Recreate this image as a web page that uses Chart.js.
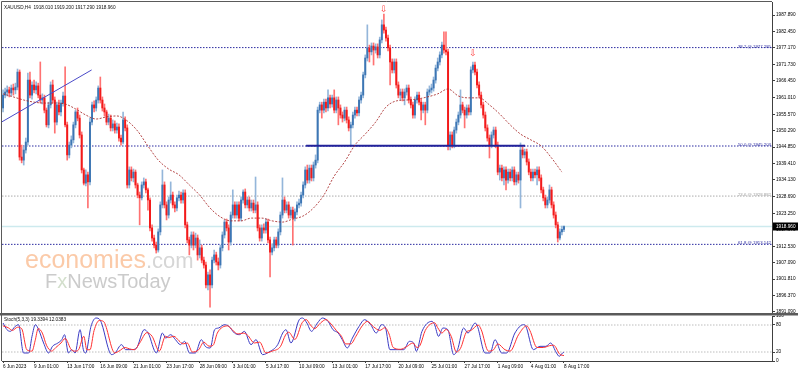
<!DOCTYPE html>
<html lang="en">
<head>
<meta charset="UTF-8" />
<title>XAUUSD H4</title>
<style>
  body { margin: 0; background: #fff; width: 798px; height: 372px; position: relative; overflow: hidden; }
  #mainWrap { position: absolute; left: 0; top: 0; width: 798px; height: 313px; }
  #stochWrap { position: absolute; left: 0; top: 313px; width: 798px; height: 59px; }
</style>
</head>
<body>
<div id="mainWrap"><canvas id="mainChart"></canvas></div>
<div id="stochWrap"><canvas id="stochChart"></canvas></div>

<script src="https://cdn.jsdelivr.net/npm/chart.js"></script>
<script>
// ---- data (XAUUSD H4, 6 Jun - 8 Aug 2023) ----
const header = 'XAUUSD,H4  1918.010 1919.200 1917.290 1918.960';
const stochHeader = 'Stoch(5,3,3) 19.3394 12.0383';

const opens = [
  1957.6,1961.8,1962.8,1963.5,1962.5,1964.1,1963.5,1964.4,1969.3,1941.6,
  1940.6,1943.9,1946.5,1966.7,1961.8,1965.1,1963.5,1964.8,1961.8,1960.2,
  1960.9,1956.9,1952.1,1958.6,1965.1,1960.2,1953.0,1958.6,1956.3,1959.2,
  1961.5,1952.1,1942.3,1945.5,1947.2,1952.1,1956.3,1954.3,1948.8,1937.4,
  1933.1,1935.8,1933.5,1953.0,1958.6,1957.6,1960.2,1964.1,1960.2,1957.6,
  1956.3,1953.0,1954.3,1951.1,1952.4,1950.4,1951.4,1947.8,1946.5,1953.7,
  1951.1,1932.5,1937.4,1934.8,1936.7,1932.5,1929.2,1928.3,1932.5,1933.5,
  1930.9,1927.6,1918.5,1915.2,1912.9,1911.3,1917.2,1926.0,1932.5,1926.0,
  1922.7,1927.6,1929.2,1926.0,1925.0,1928.3,1929.2,1927.6,1929.9,1919.5,
  1914.6,1912.9,1916.2,1912.9,1915.2,1909.7,1912.0,1908.0,1906.4,1899.9,
  1903.2,1899.9,1908.0,1909.7,1907.4,1906.4,1912.0,1916.2,1920.4,1918.5,
  1913.9,1922.7,1926.0,1922.7,1926.0,1921.7,1927.6,1930.2,1926.0,1927.6,
  1925.0,1926.6,1924.3,1926.0,1918.5,1915.2,1918.5,1917.8,1920.4,1914.6,
  1910.6,1912.0,1914.6,1912.9,1917.2,1922.7,1927.6,1924.3,1926.0,1922.7,
  1924.3,1921.7,1923.7,1926.0,1926.6,1929.2,1932.5,1937.4,1934.1,1938.0,
  1934.8,1939.0,1940.6,1956.9,1958.6,1956.9,1959.5,1957.6,1960.9,1958.9,
  1960.9,1956.9,1960.2,1957.6,1955.3,1954.3,1956.9,1953.7,1951.1,1952.1,
  1955.3,1956.9,1956.0,1960.2,1961.8,1968.4,1973.9,1977.2,1975.9,1977.8,
  1976.5,1977.5,1974.9,1979.8,1984.7,1983.0,1980.4,1977.2,1972.6,1970.0,
  1972.6,1965.1,1961.8,1962.8,1960.9,1962.8,1964.1,1960.2,1958.6,1955.3,
  1960.2,1961.8,1959.5,1956.9,1958.6,1956.9,1962.8,1963.5,1964.1,1966.7,
  1970.6,1972.6,1974.9,1978.1,1976.5,1975.9,1945.5,1948.8,1945.5,1950.4,
  1953.0,1955.3,1958.6,1956.9,1955.3,1957.6,1956.3,1970.0,1971.6,1969.3,
  1965.1,1961.8,1958.6,1955.3,1951.1,1947.8,1945.5,1948.8,1950.4,1945.5,
  1936.7,1938.0,1934.8,1937.4,1934.1,1936.7,1934.8,1937.4,1933.5,1935.8,
  1934.1,1943.9,1942.3,1943.3,1940.0,1936.7,1934.8,1936.7,1935.8,1937.4,
  1934.8,1930.9,1928.3,1926.0,1927.6,1930.9,1926.0,1922.7,1919.5,1915.2,
  1917.2,1918.01
];
const highs = [
  1963.5,1964.1,1964.8,1964.4,1965.1,1965.4,1965.7,1970.3,1970.0,1945.5,
  1944.9,1947.8,1969.0,1969.3,1966.1,1966.7,1966.1,1965.7,1972.6,1962.2,
  1961.8,1957.6,1959.5,1966.1,1966.7,1961.2,1959.5,1960.2,1960.2,1962.8,
  1971.0,1953.0,1946.5,1948.5,1953.0,1956.9,1957.6,1955.3,1949.8,1938.0,
  1937.4,1936.7,1954.3,1959.5,1959.9,1961.2,1964.8,1967.7,1961.2,1958.9,
  1956.9,1955.6,1955.3,1953.7,1953.4,1952.7,1952.4,1948.8,1956.3,1954.7,
  1952.1,1938.4,1938.4,1937.7,1937.4,1933.1,1930.2,1933.5,1934.8,1934.4,
  1931.5,1928.3,1919.5,1916.2,1913.9,1918.2,1927.0,1937.4,1933.5,1927.0,
  1928.6,1933.5,1930.2,1927.0,1929.2,1930.5,1930.2,1930.9,1930.9,1920.4,
  1915.5,1917.2,1917.2,1916.8,1916.2,1914.6,1912.9,1909.0,1907.4,1904.1,
  1904.8,1909.0,1911.3,1910.6,1908.7,1912.9,1917.2,1921.1,1921.4,1919.5,
  1923.7,1930.9,1927.0,1927.0,1927.0,1928.6,1930.9,1931.2,1928.6,1928.6,
  1927.6,1927.6,1935.1,1927.0,1919.5,1919.5,1919.8,1921.4,1921.4,1915.5,
  1913.3,1915.5,1915.5,1918.2,1923.7,1934.8,1928.6,1927.0,1927.0,1925.3,
  1925.3,1924.7,1927.0,1927.9,1930.2,1933.5,1938.4,1939.0,1939.0,1939.0,
  1940.0,1942.3,1957.9,1959.5,1959.5,1960.5,1960.5,1963.5,1961.8,1961.8,
  1963.5,1961.2,1961.2,1958.6,1956.3,1957.9,1957.9,1954.7,1953.0,1956.3,
  1957.9,1957.9,1961.2,1962.8,1969.3,1974.9,1984.7,1978.1,1978.8,1978.8,
  1978.5,1978.5,1980.7,1986.3,1988.2,1984.0,1981.4,1978.1,1973.6,1973.6,
  1973.6,1966.1,1963.8,1963.8,1963.8,1965.1,1965.1,1961.2,1959.5,1961.2,
  1962.8,1962.8,1960.5,1959.5,1959.5,1963.8,1964.8,1965.4,1967.7,1971.6,
  1973.9,1975.9,1979.1,1982.4,1982.4,1976.8,1949.8,1949.8,1951.4,1954.0,
  1956.3,1963.5,1959.5,1957.9,1958.6,1958.6,1971.0,1972.6,1972.6,1970.3,
  1966.1,1962.8,1959.5,1956.3,1952.1,1948.8,1949.8,1951.4,1951.4,1946.5,
  1939.0,1939.0,1938.4,1938.4,1937.7,1937.7,1938.4,1938.4,1936.7,1936.7,
  1946.2,1944.9,1944.2,1944.2,1941.0,1937.7,1937.7,1937.7,1938.4,1938.4,
  1935.8,1931.8,1929.2,1928.6,1932.5,1931.8,1927.0,1923.7,1920.4,1918.2,
  1919.1,1919.20
];
const lows = [
  1956.3,1960.9,1961.5,1961.2,1961.5,1961.8,1962.2,1963.5,1940.6,1939.7,
  1939.0,1942.9,1945.5,1960.9,1960.5,1962.5,1962.2,1960.9,1959.2,1958.9,
  1956.0,1951.4,1951.1,1957.6,1959.2,1949.4,1952.1,1955.3,1955.0,1958.2,
  1951.4,1940.6,1941.3,1944.6,1946.2,1951.1,1953.4,1947.8,1936.4,1932.5,
  1932.2,1925.0,1932.5,1952.1,1956.3,1956.6,1959.2,1959.2,1956.6,1955.0,
  1952.1,1952.1,1950.1,1950.1,1949.4,1949.4,1946.8,1945.5,1945.9,1950.1,
  1931.5,1931.5,1933.8,1933.5,1931.5,1928.3,1919.5,1927.6,1931.5,1929.9,
  1924.3,1917.5,1914.2,1912.0,1910.3,1910.6,1916.2,1925.0,1925.0,1921.1,
  1921.7,1926.6,1925.0,1923.7,1924.0,1927.3,1926.6,1926.6,1918.5,1913.6,
  1909.7,1912.0,1911.3,1912.0,1908.0,1908.7,1907.1,1905.4,1898.9,1898.3,
  1892.7,1898.9,1907.1,1906.4,1904.8,1905.4,1911.0,1915.2,1917.5,1911.3,
  1912.9,1921.7,1921.7,1921.7,1920.8,1920.8,1926.6,1925.0,1925.0,1924.0,
  1924.0,1923.4,1923.4,1917.5,1914.2,1914.2,1916.8,1916.8,1913.6,1902.5,
  1909.7,1911.0,1912.0,1912.0,1916.2,1921.7,1923.4,1923.4,1921.7,1921.7,
  1912.9,1920.8,1922.7,1925.0,1925.6,1928.3,1931.5,1933.1,1933.1,1933.8,
  1933.8,1938.0,1939.7,1956.0,1954.3,1956.0,1956.3,1956.6,1957.6,1957.9,
  1956.0,1956.0,1952.1,1954.3,1953.0,1953.4,1952.7,1950.1,1945.5,1951.1,
  1954.3,1955.0,1955.0,1959.2,1960.9,1967.4,1972.9,1972.6,1974.9,1971.6,
  1975.5,1973.9,1973.9,1978.8,1982.0,1979.4,1976.2,1965.1,1969.0,1969.0,
  1964.1,1960.9,1960.2,1959.9,1958.6,1961.8,1959.2,1957.6,1954.3,1954.3,
  1959.2,1958.6,1953.7,1956.0,1952.1,1956.0,1961.8,1962.5,1963.1,1965.7,
  1969.7,1971.6,1973.9,1975.5,1974.9,1943.9,1943.9,1944.6,1944.6,1949.4,
  1952.1,1954.3,1956.0,1951.1,1954.3,1955.3,1955.3,1969.0,1968.4,1964.1,
  1960.9,1957.6,1954.3,1950.1,1946.8,1941.3,1944.6,1947.8,1944.6,1935.8,
  1934.1,1933.8,1932.5,1930.9,1933.1,1933.8,1933.8,1932.5,1932.5,1933.1,
  1925.0,1941.3,1941.3,1939.0,1935.8,1933.8,1933.8,1934.8,1932.5,1933.8,
  1929.9,1927.3,1925.0,1925.0,1926.6,1925.0,1921.7,1918.5,1913.9,1914.6,
  1916.2,1917.29
];
const closes = [
  1961.8,1962.8,1963.5,1962.5,1964.1,1963.5,1964.4,1969.3,1941.6,1940.6,
  1943.9,1946.5,1966.7,1961.8,1965.1,1963.5,1964.8,1961.8,1960.2,1960.9,
  1956.9,1952.1,1958.6,1965.1,1960.2,1953.0,1958.6,1956.3,1959.2,1961.5,
  1952.1,1942.3,1945.5,1947.2,1952.1,1956.3,1954.3,1948.8,1937.4,1933.1,
  1935.8,1933.5,1953.0,1958.6,1957.6,1960.2,1964.1,1960.2,1957.6,1956.3,
  1953.0,1954.3,1951.1,1952.4,1950.4,1951.4,1947.8,1946.5,1953.7,1951.1,
  1932.5,1937.4,1934.8,1936.7,1932.5,1929.2,1928.3,1932.5,1933.5,1930.9,
  1927.6,1918.5,1915.2,1912.9,1911.3,1917.2,1926.0,1932.5,1926.0,1922.7,
  1927.6,1929.2,1926.0,1925.0,1928.3,1929.2,1927.6,1929.9,1919.5,1914.6,
  1912.9,1916.2,1912.9,1915.2,1909.7,1912.0,1908.0,1906.4,1899.9,1903.2,
  1899.9,1908.0,1909.7,1907.4,1906.4,1912.0,1916.2,1920.4,1918.5,1913.9,
  1922.7,1926.0,1922.7,1926.0,1921.7,1927.6,1930.2,1926.0,1927.6,1925.0,
  1926.6,1924.3,1926.0,1918.5,1915.2,1918.5,1917.8,1920.4,1914.6,1910.6,
  1912.0,1914.6,1912.9,1917.2,1922.7,1927.6,1924.3,1926.0,1922.7,1924.3,
  1921.7,1923.7,1926.0,1926.6,1929.2,1932.5,1937.4,1934.1,1938.0,1934.8,
  1939.0,1940.6,1956.9,1958.6,1956.9,1959.5,1957.6,1960.9,1958.9,1960.9,
  1956.9,1960.2,1957.6,1955.3,1954.3,1956.9,1953.7,1951.1,1952.1,1955.3,
  1956.9,1956.0,1960.2,1961.8,1968.4,1973.9,1977.2,1975.9,1977.8,1976.5,
  1977.5,1974.9,1979.8,1984.7,1983.0,1980.4,1977.2,1972.6,1970.0,1972.6,
  1965.1,1961.8,1962.8,1960.9,1962.8,1964.1,1960.2,1958.6,1955.3,1960.2,
  1961.8,1959.5,1956.9,1958.6,1956.9,1962.8,1963.5,1964.1,1966.7,1970.6,
  1972.6,1974.9,1978.1,1976.5,1975.9,1945.5,1948.8,1945.5,1950.4,1953.0,
  1955.3,1958.6,1956.9,1955.3,1957.6,1956.3,1970.0,1971.6,1969.3,1965.1,
  1961.8,1958.6,1955.3,1951.1,1947.8,1945.5,1948.8,1950.4,1945.5,1936.7,
  1938.0,1934.8,1937.4,1934.1,1936.7,1934.8,1937.4,1933.5,1935.8,1934.1,
  1943.9,1942.3,1943.3,1940.0,1936.7,1934.8,1936.7,1935.8,1937.4,1934.8,
  1930.9,1928.3,1926.0,1927.6,1930.9,1926.0,1922.7,1919.5,1915.2,1917.2,
  1918.01,1918.96
];

// moving average, [bar, price]
const maPts = [
  [0,1962.2],[5,1961.2],[10,1960.2],[15,1959.5],[20,1959.2],[25,1959.2],[30,1958.9],[35,1957.3],
  [40,1955.3],[45,1954.0],[50,1954.7],[55,1955.0],[60,1953.4],[65,1950.1],[70,1945.2],[75,1940.6],
  [80,1937.7],[85,1935.8],[90,1932.5],[95,1929.2],[100,1925.0],[105,1922.1],[110,1920.8],[115,1920.8],
  [120,1921.7],[125,1921.7],[130,1920.8],[135,1920.4],[140,1921.4],[145,1922.4],[150,1925.0],[155,1929.2],
  [160,1935.4],[165,1940.0],[170,1945.5],[175,1949.1],[180,1953.0],[185,1957.9],[190,1959.9],[195,1960.2],
  [200,1960.5],[205,1961.2],[210,1962.2],[215,1963.8],[220,1961.5],[225,1960.9],[230,1960.9],[235,1958.6],
  [240,1955.6],[245,1952.1],[250,1949.1],[255,1947.2],[260,1945.2],[265,1941.3],[270,1936.7]
];

// stochastic %K (main) and %D (signal), [bar, value]
const stochMain = [
  [0,84.4],[1.9,69.6],[3.5,65.9],[5.9,77],[7.5,80.7],[9.9,17.8],[12.4,17.8],[14,54.8],[15.6,80.7],[17.2,69.6],
  [19.6,40],[22,17.8],[23.9,32.6],[26.5,40],[28.4,47.4],[29.7,58.5],[31.6,17.8],[33.2,25.2],[34.8,17.8],[37.2,69.6],
  [38.8,25.2],[39.9,17.8],[42.5,77],[44.9,95.5],[46.8,91.8],[52.5,14.1],[54.1,17.8],[57.3,36.3],[59.2,25.2],[62.1,25.2],
  [64.5,28.9],[68.2,69.6],[70.1,62.2],[74.1,17.8],[77,62.2],[78.6,51.1],[81,58.5],[83.3,47.4],[85.7,36.3],[87.7,43.7],
  [90.1,17.8],[92.9,17.8],[95.8,47.4],[97.7,32.6],[100.1,28.9],[102.2,69.6],[104.1,73.3],[107,80.7],[109.1,77],[111.8,62.2],
  [114.2,58.5],[116.6,65.9],[119.8,36.3],[122.2,47.4],[125.4,14.1],[128.5,20],[132.7,36.3],[135.1,62.2],[136.7,69.6],[139.1,40],
  [143.1,91.8],[144.7,95.5],[146.8,84.4],[149,65.9],[151.9,84.4],[154.3,95.5],[157,88.1],[159.4,69.6],[161.9,62.2],[163.9,47.4],
  [166.3,28.9],[168.8,51.1],[172,77],[174.7,91.8],[177.6,80.7],[180.3,62.2],[182.9,80.7],[184.8,73.3],[186.9,25.2],[190.4,25.2],
  [193.6,25.2],[196.3,43.7],[198.4,40],[199.7,21.5],[202.4,65.9],[207.2,88.1],[208.5,80.7],[210.4,54.8],[212.5,73.3],[214.9,69.6],
  [217.7,14.1],[219.6,25.2],[222.5,73.3],[224.6,62.2],[228.1,84.4],[229.2,77],[232.9,17.8],[235.3,17.8],[237.7,47.4],[240.9,17.8],
  [243.3,17.8],[247.3,62.2],[251.4,80.7],[252.6,77],[256.2,25.2],[259.4,32.6],[262.3,32.6],[264.5,40],[267.4,17.8],[268.7,10.4],
  [270.3,17.8],[271,19.34]
];
const stochSignal = [
  [0,78],[2.5,74],[4.5,68],[7,75],[9,72],[11.5,25],[14,22],[15.5,45],[17,72],[19,62],
  [21,35],[23.5,22],[25.5,30],[28,40],[30,50],[33,25],[35,22],[36.5,25],[39,55],[40.5,25],
  [42,25],[44,68],[46.5,90],[48.5,88],[54,18],[56,22],[59,30],[61,27],[63.5,25],[66,40],
  [69.5,63],[72,55],[75.5,22],[78.5,55],[80,52],[82.5,55],[85,45],[87,38],[89,40],[91.5,20],
  [94.5,25],[97,42],[99.5,33],[101.5,35],[103.5,62],[106,75],[108.5,78],[111,68],[113.5,60],[116,62],
  [118,58],[121.5,40],[124,42],[127,18],[130,22],[134,32],[136.5,58],[138,64],[141,48],[144.5,85],
  [146.5,92],[148.5,80],[150.5,72],[153.5,85],[156,92],[158.5,82],[161,68],[163.5,55],[165.5,38],[168,38],
  [170.5,55],[173.5,78],[176,88],[179,76],[182,68],[184.5,74],[186.5,60],[188.5,30],[192,26],[195,32],
  [198,40],[200,30],[201.5,35],[204,68],[208.5,85],[210,74],[212,62],[214,70],[216.5,55],[219,20],
  [221,28],[224,65],[226,68],[229.5,80],[231,70],[234.5,22],[237,25],[239,38],[242.5,25],[245,22],
  [249,58],[253,78],[254.5,68],[258,30],[261,30],[264,34],[266,35],[269,15],[271,12.04]
];

const priceTicks = [1987.890,1982.450,1977.170,1971.730,1966.450,1961.010,1955.570,1950.290,1944.850,
  1939.410,1934.130,1928.690,1923.250,1917.970,1912.530,1907.090,1901.810,1896.370,1891.090];
const stochTicks = [0, 20, 80, 100];
const stochLevels = [20, 80];

const dateTicks = [0,15,31,47,63,79,95,111,127,143,159,175,191,207,223,239,255,271];
const dateLabels = ['6 Jun 2023','9 Jun 01:00','13 Jun 17:00','16 Jun 09:00','21 Jun 01:00','23 Jun 17:00',
  '28 Jun 09:00','3 Jul 01:00','5 Jul 17:00','10 Jul 09:00','13 Jul 01:00','17 Jul 17:00','20 Jul 09:00',
  '25 Jul 01:00','27 Jul 17:00','1 Aug 09:00','4 Aug 01:00','8 Aug 17:00'];

const fibLevels = [1977.285, 1945.203, 1928.882, 1913.142];
const fibNames = ['38.2', '50.0', '23.6', '61.8'];
const bidPrice = 1918.960;
const trendLine = [[-0.5, 1953.1], [42.8, 1970.0]];
const levelLine = [[146.4, 1945.3], [252.2, 1945.3]];
const arrowMarks = [[184, 1989.5], [227, 1975.2]];

// ---- view ----
const X_MIN = -0.5, X_MAX = 371.5;
const PRICE_MIN = 1890.76, PRICE_MAX = 1992.15;
const FONT = '"Liberation Sans", Arial, sans-serif';
const AXIS = '#404040';

Chart.defaults.font.family = FONT;
Chart.defaults.font.size = 4.7;
Chart.defaults.color = '#000';

const toXY = pts => pts.map(([x, y]) => ({ x, y }));
const hLine = v => [{ x: X_MIN, y: v }, { x: X_MAX, y: v }];
const bull = i => closes[i] >= opens[i];

const mainDeco = {
  id: 'mainDeco',
  beforeDatasetsDraw(chart) {
    const ctx = chart.ctx;
    ctx.save();
    ctx.textBaseline = 'alphabetic';
    ctx.font = '25px ' + FONT;
    ctx.fillStyle = '#fbcaa8';
    ctx.fillText('economies', 25, 268);
    const w = ctx.measureText('economies').width;
    ctx.font = '22px ' + FONT;
    ctx.fillStyle = '#d6d6d6';
    ctx.fillText('.com', 25 + w, 268);
    ctx.font = '20px ' + FONT;
    ctx.fillStyle = '#cbcbcb';
    ctx.fillText('F', 45, 288);
    let x = 45 + ctx.measureText('F').width;
    ctx.fillStyle = '#d3dfcc';
    ctx.fillText('x', x, 288);
    x += ctx.measureText('x').width;
    ctx.fillStyle = '#cbcbcb';
    ctx.fillText('NewsToday', x, 288);
    ctx.restore();
  },
  afterDraw(chart) {
    const { ctx, chartArea: a, scales: { x, y } } = chart;
    ctx.save();
    ctx.strokeStyle = '#5a5a5a';
    ctx.lineWidth = 1;
    ctx.beginPath();
    ctx.moveTo(a.left - 0.5, a.bottom);
    ctx.lineTo(a.left - 0.5, a.top - 0.5);
    ctx.lineTo(a.right, a.top - 0.5);
    ctx.stroke();

    ctx.fillStyle = '#101010';
    ctx.font = '4.7px ' + FONT;
    ctx.textBaseline = 'middle';
    ctx.fillText(header, 4, 8);

    ctx.font = '4.3px ' + FONT;
    ctx.textAlign = 'right';
    ctx.textBaseline = 'bottom';
    fibLevels.forEach((v, k) => {
      ctx.fillStyle = k === 2 ? '#a0a0a0' : '#2a2aa0';
      ctx.fillText(fibNames[k] + ' @ ' + v.toFixed(3), a.right - 1, y.getPixelForValue(v) + 1);
    });

    ctx.font = '9px "DejaVu Sans"';
    ctx.textAlign = 'center';
    ctx.textBaseline = 'middle';
    ctx.fillStyle = '#ff4040';
    arrowMarks.forEach(([b, p]) => ctx.fillText('\u21E9', x.getPixelForValue(b), y.getPixelForValue(p)));

    const py = y.getPixelForValue(bidPrice);
    ctx.fillStyle = '#000';
    ctx.fillRect(a.right + 1, py - 4, 25, 8);
    ctx.fillStyle = '#fff';
    ctx.font = '4.7px ' + FONT;
    ctx.textAlign = 'left';
    ctx.fillText(bidPrice.toFixed(3), a.right + 4, py);
    ctx.restore();
  }
};

new Chart(document.getElementById('mainChart'), {
  type: 'bar',
  data: {
    datasets: [
      { type: 'line', data: toXY(maPts), borderColor: 'rgba(168,40,40,0.85)', borderWidth: 1,
        borderDash: [2, 1.5], pointRadius: 0, cubicInterpolationMode: 'monotone' },
      { type: 'line', data: toXY(trendLine), borderColor: '#4a4ac8', borderWidth: 1, pointRadius: 0 },
      { type: 'line', data: toXY(levelLine), borderColor: '#22229a', borderWidth: 2, pointRadius: 0 },
      { data: opens.map((o, i) => ({ x: i, y: [o, closes[i]] })), grouped: false,
        barThickness: 1.3, minBarLength: 0.8,
        backgroundColor: c => bull(c.dataIndex) ? '#3d76b4' : '#f21a1a' },
      { data: lows.map((l, i) => ({ x: i, y: [l, highs[i]] })), grouped: false, barThickness: 1,
        backgroundColor: c => bull(c.dataIndex) ? '#94b6da' : '#ff7272' },
      ...fibLevels.map((v, k) => ({ type: 'line', data: hLine(v), pointRadius: 0, borderWidth: 1,
        borderDash: [1.5, 1.5], borderColor: k === 2 ? '#aaaaaa' : '#2a2aa0' })),
      { type: 'line', data: hLine(bidPrice), borderColor: '#cdeaee', borderWidth: 1.5, pointRadius: 0 }
    ]
  },
  options: {
    responsive: true, maintainAspectRatio: false, animation: false, devicePixelRatio: 1,
    layout: { padding: { left: 2, top: 2, right: 0, bottom: 0 } },
    plugins: { legend: { display: false }, tooltip: { enabled: false } },
    scales: {
      x: { type: 'linear', min: X_MIN, max: X_MAX, offset: false, display: false },
      y: {
        position: 'right', min: PRICE_MIN, max: PRICE_MAX, beginAtZero: false,
        afterBuildTicks: s => { s.ticks = priceTicks.map(v => ({ value: v })); },
        afterFit: s => { s.width = 26; s.paddingTop = 0; s.paddingBottom = 0; },
        ticks: { callback: v => v.toFixed(3), padding: 1, autoSkip: false },
        grid: { drawOnChartArea: false, tickLength: 3, color: AXIS },
        border: { display: true, color: AXIS }
      }
    }
  },
  plugins: [mainDeco]
});

const stochDeco = {
  id: 'stochDeco',
  afterDraw(chart) {
    const { ctx, chartArea: a } = chart;
    ctx.save();
    ctx.fillStyle = '#5a5a5a';
    ctx.fillRect(0, 0, chart.width, 2.5);
    ctx.strokeStyle = '#5a5a5a';
    ctx.lineWidth = 1;
    ctx.beginPath();
    ctx.moveTo(a.left - 0.5, 2);
    ctx.lineTo(a.left - 0.5, a.bottom);
    ctx.stroke();
    ctx.fillStyle = '#101010';
    ctx.font = '4.7px ' + FONT;
    ctx.textBaseline = 'middle';
    ctx.fillText(stochHeader, 4, 6.5);
    ctx.restore();
  }
};

new Chart(document.getElementById('stochChart'), {
  type: 'line',
  data: {
    datasets: [
      { data: toXY(stochSignal), borderColor: '#ff3030', borderWidth: 1, pointRadius: 0,
        cubicInterpolationMode: 'monotone' },
      { data: toXY(stochMain), borderColor: '#3a3ac4', borderWidth: 1, pointRadius: 0,
        cubicInterpolationMode: 'monotone' },
      ...stochLevels.map(v => ({ data: hLine(v), borderColor: '#bdbdbd', borderWidth: 1,
        borderDash: [1.5, 1.5], pointRadius: 0 }))
    ]
  },
  options: {
    responsive: true, maintainAspectRatio: false, animation: false, devicePixelRatio: 1,
    layout: { padding: { left: 2, top: 3, right: 0, bottom: 0 } },
    plugins: { legend: { display: false }, tooltip: { enabled: false } },
    scales: {
      x: {
        type: 'linear', min: X_MIN, max: X_MAX, offset: false,
        afterBuildTicks: s => { s.ticks = dateTicks.map(v => ({ value: v })); },
        afterFit: s => { s.height = 11; s.paddingLeft = 0; s.paddingRight = 0; },
        ticks: { callback: (v, i) => dateLabels[i], align: 'start', autoSkip: false,
          maxRotation: 0, minRotation: 0, padding: 1 },
        grid: { drawOnChartArea: false, tickLength: 2, color: AXIS },
        border: { display: true, color: AXIS }
      },
      y: {
        position: 'right', min: 0, max: 100,
        afterBuildTicks: s => { s.ticks = stochTicks.map(v => ({ value: v })); },
        afterFit: s => { s.width = 26; s.paddingTop = 0; s.paddingBottom = 0; },
        ticks: { padding: 1, autoSkip: false },
        grid: { drawOnChartArea: false, tickLength: 3, color: AXIS },
        border: { display: true, color: AXIS }
      }
    }
  },
  plugins: [stochDeco]
});
</script>
</body>
</html>
